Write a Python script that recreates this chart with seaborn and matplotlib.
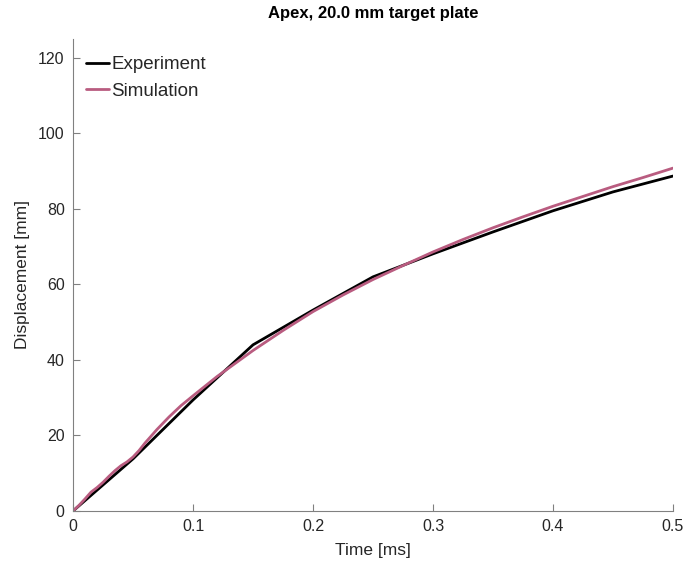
import numpy as np
import pandas as pd
import matplotlib
matplotlib.use("Agg")
import matplotlib.pyplot as plt
import seaborn as sns

# Measured apex displacement
exp_time = [0.0, 0.05, 0.10, 0.15, 0.20, 0.25, 0.30, 0.35, 0.40, 0.45, 0.50]
exp_disp = [0.0, 13.8, 29.4, 44.0, 53.2, 62.0, 68.1, 73.9, 79.5, 84.5, 88.7]

# Simulated apex displacement
sim_time = [0.0, 0.005, 0.01, 0.015, 0.02, 0.025, 0.03, 0.035, 0.04, 0.045,
            0.05, 0.055, 0.06, 0.07, 0.08, 0.09, 0.10, 0.12, 0.15, 0.175,
            0.20, 0.225, 0.25, 0.275, 0.30, 0.325, 0.35, 0.375, 0.40, 0.425,
            0.45, 0.475, 0.50]
sim_disp = [0.0, 1.5, 3.2, 5.0, 6.2, 7.6, 9.2, 10.7, 12.0, 13.0,
            14.3, 16.0, 18.0, 21.6, 24.9, 27.9, 30.5, 35.6, 42.5, 47.8,
            52.8, 57.2, 61.3, 65.0, 68.6, 71.9, 75.0, 77.9, 80.7, 83.3,
            85.9, 88.3, 90.8]

df = pd.concat([
    pd.DataFrame({"Time": exp_time, "Displacement": exp_disp, "Source": "Experiment"}),
    pd.DataFrame({"Time": sim_time, "Displacement": sim_disp, "Source": "Simulation"}),
])

sns.set_style("white")
plt.rcParams["font.family"] = ["Liberation Sans", "DejaVu Sans"]

fig = plt.figure(figsize=(6.87, 5.64), dpi=100)
ax = fig.add_axes([0.1063, 0.094, 0.8733, 0.8369])

palette = {"Experiment": "#000000", "Simulation": "#b95c80"}
sns.lineplot(data=df, x="Time", y="Displacement", hue="Source",
             palette=palette, linewidth=2.0, ax=ax, sort=False)

ax.set_xlim(0, 0.5)
ax.set_ylim(0, 125)
ax.set_xticks([0, 0.1, 0.2, 0.3, 0.4, 0.5])
ax.set_xticklabels(["0", "0.1", "0.2", "0.3", "0.4", "0.5"])
ax.set_yticks([0, 20, 40, 60, 80, 100, 120])

axis_col = "#262626"
for side in ["top", "right"]:
    ax.spines[side].set_visible(False)
for side in ["left", "bottom"]:
    ax.spines[side].set_color("#808080")
    ax.spines[side].set_linewidth(0.8)
ax.tick_params(bottom=True, left=True, direction="in", length=5, width=0.8,
               color="#808080", labelsize=11.5, labelcolor=axis_col, pad=6)

ax.set_xlabel("Time [ms]", fontsize=12.5, color=axis_col, labelpad=6)
ax.set_ylabel("Displacement [mm]", fontsize=12.5, color=axis_col, labelpad=6)
ax.set_title("Apex, 20.0 mm target plate", fontsize=12, fontweight="bold",
             color="#000000", pad=15)

leg = ax.legend(loc="upper left", frameon=False, fontsize=13.5,
                handlelength=1.2, handletextpad=0.15, borderaxespad=0.3,
                bbox_to_anchor=(0.0, 0.9915), labelspacing=0.5)
for line in leg.get_lines():
    line.set_linewidth(2.0)

fig.savefig("out.png", dpi=100)
